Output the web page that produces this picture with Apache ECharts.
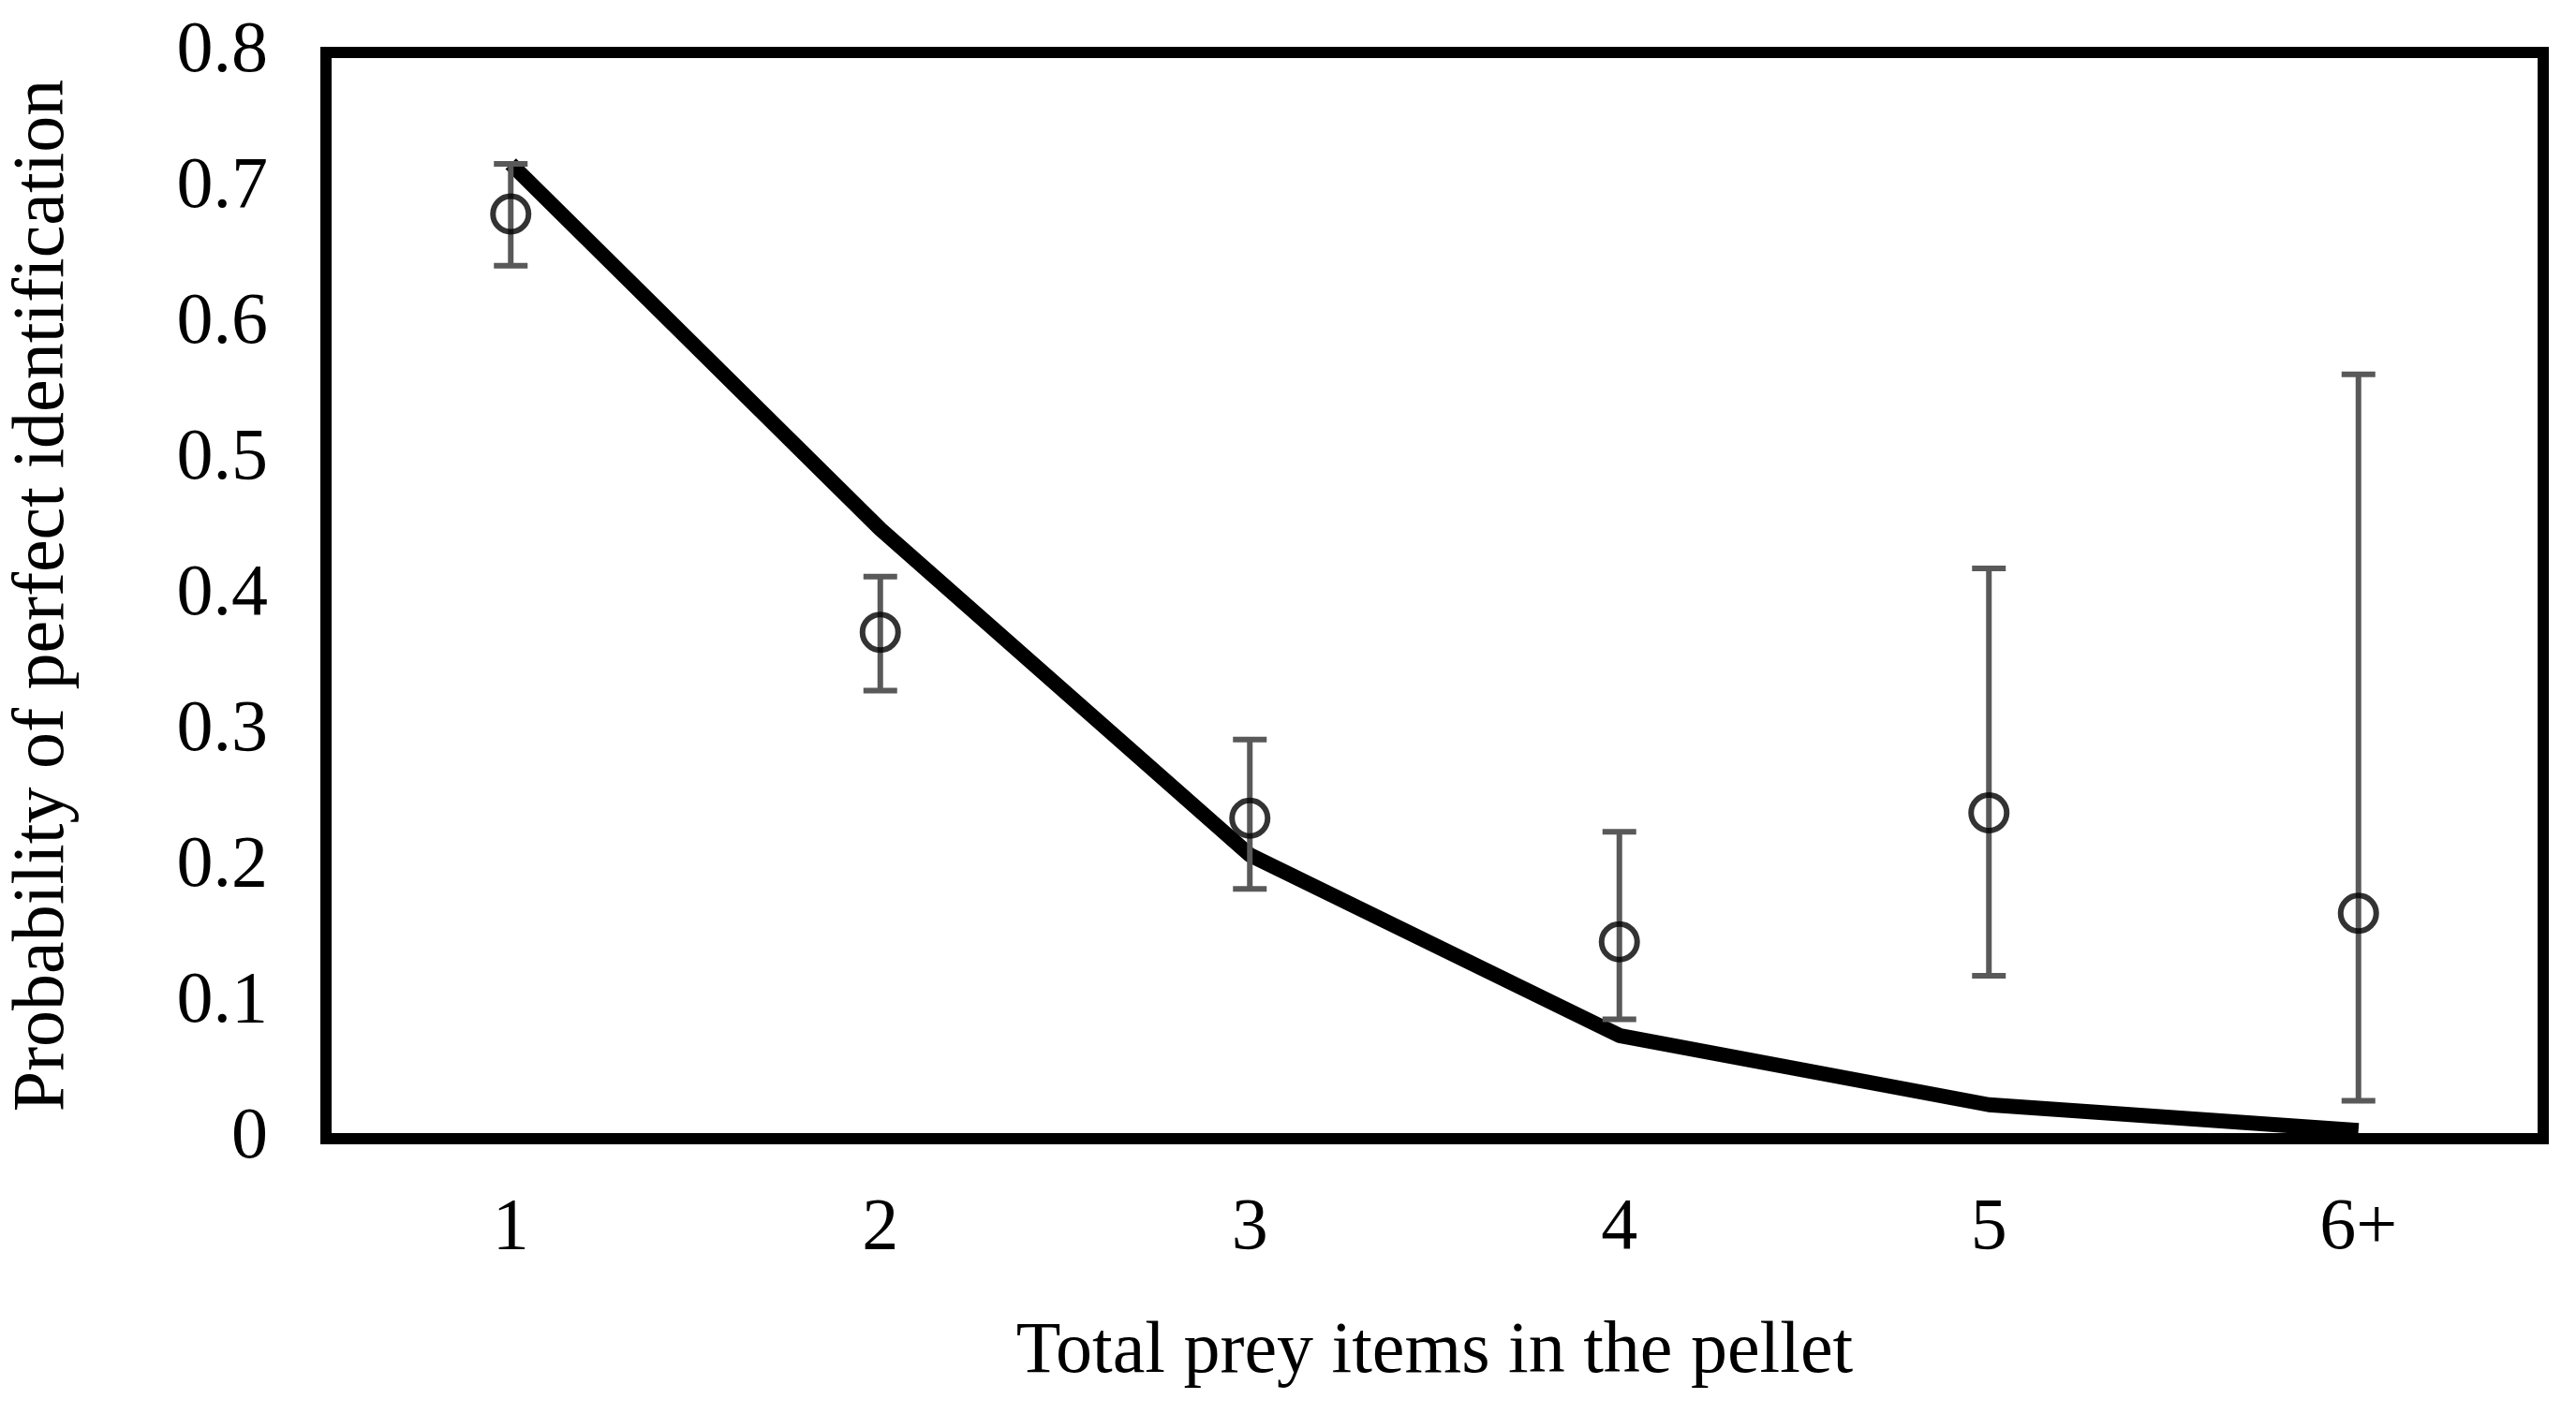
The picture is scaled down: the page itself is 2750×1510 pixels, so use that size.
<!DOCTYPE html>
<html><head><meta charset="utf-8">
<script src="https://cdn.jsdelivr.net/npm/echarts@6/dist/echarts.min.js"></script>
<style>html,body{margin:0;padding:0;background:#fff}#c{width:2750px;height:1510px}</style>
</head><body><div id="c"></div>
<script>
const categories = ['1','2','3','4','5','6+'];
const observed = [0.681, 0.373, 0.236, 0.145, 0.240, 0.166];
const errLow = [0.643, 0.330, 0.184, 0.088, 0.120, 0.028];
const errHigh = [0.718, 0.414, 0.294, 0.226, 0.420, 0.563];
const predicted = [0.718, 0.449, 0.209, 0.076, 0.025, 0.006];

const font = 'Liberation Serif';
const chart = echarts.init(document.getElementById('c'));
chart.setOption({
  animation: false,
  grid: {left: 339, right: 35, top: 56, bottom: 294, show: true, borderColor: '#000', borderWidth: 12, backgroundColor: 'transparent'},
  xAxis: {type: 'category', data: categories, boundaryGap: true,
    axisLine: {show: false}, axisTick: {show: false},
    axisLabel: {fontFamily: font, fontSize: 78, color: '#000', margin: 58},
    name: 'Total prey items in the pellet', nameLocation: 'middle', nameGap: 190,
    nameTextStyle: {fontFamily: font, fontSize: 78, color: '#000'}},
  yAxis: {type: 'value', min: 0, max: 0.8, interval: 0.1,
    splitLine: {show: false}, axisLine: {show: false}, axisTick: {show: false},
    axisLabel: {fontFamily: font, fontSize: 78, color: '#000', margin: 62,
      formatter: v => v === 0 ? '0' : v.toFixed(1)},
    name: 'Probability of perfect identification', nameLocation: 'middle', nameGap: 262,
    nameTextStyle: {fontFamily: font, fontSize: 78, color: '#000'}},
  series: [
    {type: 'line', data: predicted, symbol: 'none', lineStyle: {color: '#000', width: 16}, z: 2},
    {type: 'custom', z: 3,
      data: categories.map((c, i) => [i, errLow[i], errHigh[i]]),
      renderItem: (params, api) => {
        const lo = api.coord([api.value(0), api.value(1)]);
        const hi = api.coord([api.value(0), api.value(2)]);
        const w = 18;
        const st = {stroke: '#595959', lineWidth: 6};
        return {type: 'group', children: [
          {type: 'line', shape: {x1: lo[0], y1: lo[1], x2: hi[0], y2: hi[1]}, style: st},
          {type: 'line', shape: {x1: lo[0]-w, y1: lo[1], x2: lo[0]+w, y2: lo[1]}, style: st},
          {type: 'line', shape: {x1: hi[0]-w, y1: hi[1], x2: hi[0]+w, y2: hi[1]}, style: st}
        ]};
      }},
    {type: 'scatter', data: observed, symbol: 'circle', symbolSize: 38, z: 4,
      itemStyle: {color: 'rgba(255,255,255,0)', borderColor: '#000', borderWidth: 6}}
  ]
});
</script></body></html>
